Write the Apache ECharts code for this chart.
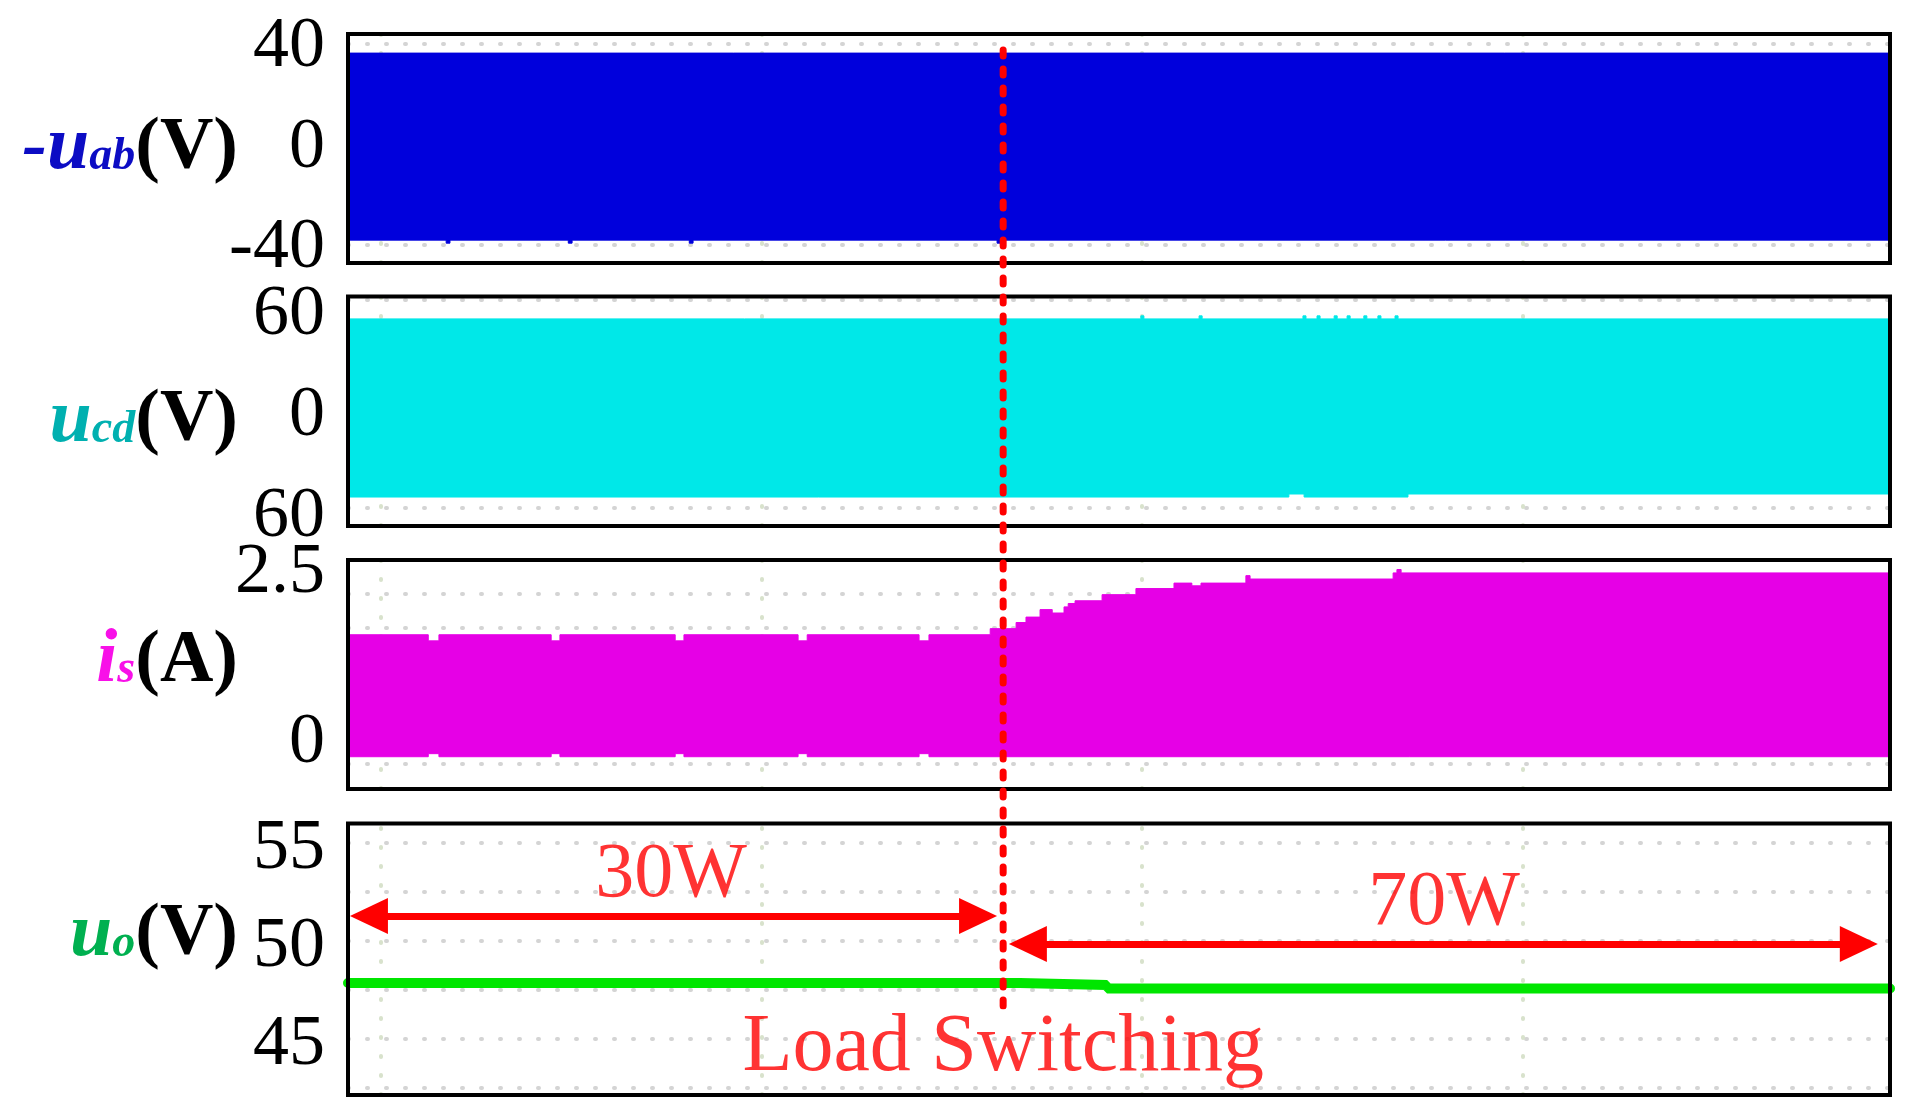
<!DOCTYPE html>
<html>
<head>
<meta charset="utf-8">
<title>Load switching waveforms</title>
<script src="https://cdn.jsdelivr.net/npm/echarts@6/dist/echarts.min.js"></script>
<style>
    html, body { margin: 0; padding: 0; background: #fff; }
    #main { width: 1906px; height: 1115px; }
</style>
</head>
<body>
<div id="main"></div>
<script>
// time axis is in scope divisions, 0 = first vertical grid line
var tMin = -0.087, tMax = 3.966;
var tSwitch = 1.635;
var vGrid = [0, 1, 2, 3];

// -uab (V): envelope of the switching waveform
var uabUpper = [[-0.087, 36.1], [3.966, 36.1]];
var uabLower = [[-0.087, -38.3], [0.171, -39.5], [0.181, -38.3], [0.492, -39.5], [0.502, -38.3],
    [0.810, -39.5], [0.820, -38.3], [1.619, -39.5], [1.629, -38.3], [3.966, -38.3]];
var uabTicks = [40, 0, -40];
var uabTickText = ['40', '0', '-40'];
var uabGrid = [40, 20, 0, -20, -40];

// ucd (V)
var ucdUpper = [[-0.087, 53.5], [1.997, 55.3], [2.005, 53.5], [2.150, 55.3], [2.158, 53.5],
    [2.423, 55.3], [2.431, 53.5], [2.460, 55.3], [2.468, 53.5], [2.505, 55.3], [2.513, 53.5],
    [2.539, 55.3], [2.547, 53.5], [2.583, 55.3], [2.591, 53.5], [2.620, 55.3], [2.628, 53.5],
    [2.665, 55.3], [2.673, 53.5], [3.966, 53.5]];
var ucdLower = [[-0.087, -52.3], [2.386, -50.5], [2.426, -52.3], [2.699, -50.5], [3.966, -50.5]];
var ucdTicks = [60, 0, -60];
var ucdTickText = ['60', '0', '60'];
var ucdGrid = [64.8, 33.9, 3.0, -27.9, -58.8];

// is (A)
var isUpper = [[-0.087, 1.56], [0.124, 1.47], [0.152, 1.56], [0.447, 1.47], [0.470, 1.56],
    [0.773, 1.47], [0.796, 1.56], [1.096, 1.47], [1.120, 1.56], [1.414, 1.47], [1.440, 1.56],
    [1.601, 1.65], [1.669, 1.74], [1.695, 1.82], [1.732, 1.93], [1.764, 1.88], [1.795, 1.97],
    [1.806, 2.02], [1.824, 2.06], [1.895, 2.15], [1.984, 2.24], [2.084, 2.32], [2.131, 2.28],
    [2.155, 2.32], [2.273, 2.43], [2.284, 2.38], [2.660, 2.47], [2.670, 2.52], [2.681, 2.47],
    [3.966, 2.47]];
var isLower = [[-0.087, -0.235], [0.124, -0.19], [0.152, -0.235], [0.447, -0.19], [0.470, -0.235],
    [0.773, -0.19], [0.796, -0.235], [1.096, -0.19], [1.120, -0.235], [1.414, -0.19], [1.440, -0.235],
    [3.966, -0.235]];
var isTicks = [2.5, 0];
var isTickText = ['2.5', '0'];
var isGrid = [2.16, 1.66, 1.16, 0.66, 0.16, -0.34];

// uo (V)
var uoLine = [[-0.087, 47.86], [1.679, 47.76], [1.908, 47.58], [3.966, 47.58]];
var uoTicks = [55, 50, 45];
var uoTickText = ['55', '50', '45'];
var uoGrid = [55, 52.5, 50, 47.5, 45, 42.5];

// annotations in the uo panel
var arrow30W = [-0.032, 1.569, 51.28];
var arrow70W = [1.700, 3.884, 49.85];
var notes = [
    {name: '30W', value: [0.762, 53.32]},
    {name: '70W', value: [2.794, 51.89]},
    {name: 'Load Switching', value: [1.635, 44.5], label: {fontSize: 82}}
];
var switchLine = [[tSwitch, 0], [tSwitch, 1]];

var FONT = "'Liberation Serif', 'Times New Roman', 'DejaVu Serif', serif";
var hStyle = {type: [1, 18], width: 4, color: '#d4d4d4', cap: 'round'};
var vStyle = {type: [1, 18], width: 4, color: '#d8e2cc', cap: 'round'};

function nameRich(color) {
    return {
        m: {fontFamily: FONT, fontSize: 74, fontWeight: 'bold', fontStyle: 'italic', color: color},
        u: {fontFamily: FONT, fontSize: 76, fontWeight: 'bold', fontStyle: 'italic', color: color},
        s: {fontFamily: FONT, fontSize: 46, fontWeight: 'bold', fontStyle: 'italic', color: color,
            padding: [18, 0, 0, 0]},
        p: {fontFamily: FONT, fontSize: 74, fontWeight: 'bold', color: '#000'}
    };
}

// labelShift: how far the tick text sits below its value, px
var panels = [
    {top: 34, height: 229, min: -47.4, max: 43.7, ticks: uabTicks, text: uabTickText, grid: uabGrid,
        name: '{m|-}{u|u}{s|ab}{p|(V)}', color: '#0c0cc4', labelShift: 4, namePad: [0, 0, 0, 0]},
    {top: 296.5, height: 229.5, min: -69.5, max: 66.8, ticks: ucdTicks, text: ucdTickText, grid: ucdGrid,
        name: '{u|u}{s|cd}{p|(V)}', color: '#00b0b0', labelShift: 7, namePad: [20, 0, 0, 0]},
    {top: 560, height: 229, min: -0.71, max: 2.66, ticks: isTicks, text: isTickText, grid: isGrid,
        name: '{u|i}{s|s}{p|(A)}', color: '#f810e8', labelShift: 2, namePad: [0, 0, 26, 0]},
    {top: 823.5, height: 271.5, min: 42.14, max: 56.0, ticks: uoTicks, text: uoTickText, grid: uoGrid,
        name: '{u|u}{s|o}{p|(V)}', color: '#00b050', labelShift: 6, namePad: [0, 0, 48, 0]}
];

var grids = [], xAxes = [], yAxes = [], series = [];

panels.forEach(function (p, i) {
    grids.push({left: 348, right: 16, top: p.top, height: p.height, show: true,
        borderColor: '#000', borderWidth: 4, backgroundColor: 'transparent', z: 5});
    xAxes.push({gridIndex: i, type: 'value', min: tMin, max: tMax, show: false});
    yAxes.push({
        gridIndex: i, type: 'value', min: p.min, max: p.max,
        axisLine: {show: false}, axisTick: {show: false}, splitLine: {show: false},
        axisLabel: {
            customValues: p.ticks, margin: 23, fontFamily: FONT, fontSize: 72, color: '#000',
            verticalAlign: 'top', lineHeight: 2 * p.labelShift,
            formatter: function (v) {
                var k = p.ticks.indexOf(v);
                return k < 0 ? '' : p.text[k];
            }
        },
        name: p.name, nameLocation: 'middle', nameRotate: 0, nameGap: 110, nameMoveOverlap: false,
        nameTextStyle: {fontFamily: FONT, fontSize: 74, padding: p.namePad, rich: nameRich(p.color)}
    });
    // scope grid (under the traces)
    series.push({
        type: 'line', xAxisIndex: i, yAxisIndex: i, data: [], z: 1, silent: true,
        markLine: {
            z: 1, silent: true, animation: false, symbol: 'none', label: {show: false},
            data: p.grid.map(function (v) { return {yAxis: v, lineStyle: hStyle}; })
                .concat(vGrid.map(function (v) { return {xAxis: v, lineStyle: vStyle}; }))
        }
    });
});

function band(i, data, color, origin) {
    return {
        type: 'line', xAxisIndex: i, yAxisIndex: i, data: data, step: 'end',
        symbol: 'none', silent: true, z: 2,
        lineStyle: {width: 1, color: color},
        areaStyle: {color: color, opacity: 1, origin: origin}
    };
}

series.push(band(0, uabUpper, '#0000dc', -20));
series.push(band(0, uabLower, '#0000dc', 0));
series.push(band(1, ucdUpper, '#00e8e8', -25));
series.push(band(1, ucdLower, '#00e8e8', 0));
series.push(band(2, isUpper, '#e600e6', -0.1));
series.push(band(2, isLower, '#e600e6', 0));

series.push({
    type: 'line', xAxisIndex: 3, yAxisIndex: 3, data: uoLine, step: 'end',
    symbol: 'none', silent: true, z: 3,
    lineStyle: {width: 10, color: '#00e600', cap: 'round'}
});

// power arrows
series.push({
    type: 'line', xAxisIndex: 3, yAxisIndex: 3, data: [], z: 6, silent: true,
    markLine: {
        z: 6, silent: true, animation: false, symbol: ['triangle', 'triangle'], symbolSize: [36, 38],
        label: {show: false},
        lineStyle: {color: '#ff0000', width: 7, type: 'solid', opacity: 1},
        itemStyle: {color: '#ff0000'},
        data: [
            [{coord: [arrow30W[0], arrow30W[2]]}, {coord: [arrow30W[1], arrow30W[2]]}],
            [{coord: [arrow70W[0], arrow70W[2]]}, {coord: [arrow70W[1], arrow70W[2]]}]
        ]
    }
});

// text labels
series.push({
    type: 'scatter', xAxisIndex: 3, yAxisIndex: 3, data: notes, z: 7, silent: true,
    symbolSize: 0, itemStyle: {color: 'transparent'},
    label: {show: true, position: 'inside', formatter: '{b}', color: '#ff0000',
        fontFamily: FONT, fontSize: 78}
});

// switching instant, drawn across all panels
grids.push({left: 348, right: 16, top: 43, bottom: 109, show: false});
xAxes.push({gridIndex: 4, type: 'value', min: tMin, max: tMax, show: false});
yAxes.push({gridIndex: 4, type: 'value', min: 0, max: 1, show: false});
series.push({
    type: 'line', xAxisIndex: 4, yAxisIndex: 4, data: switchLine, z: 10,
    symbol: 'none', silent: true,
    lineStyle: {color: '#ff0000', width: 7, type: [6, 13], cap: 'round'}
});

var myChart = echarts.init(document.getElementById('main'));
myChart.setOption({
    animation: false,
    backgroundColor: '#fff',
    textStyle: {fontFamily: FONT},
    grid: grids,
    xAxis: xAxes,
    yAxis: yAxes,
    series: series
});
</script>
</body>
</html>
